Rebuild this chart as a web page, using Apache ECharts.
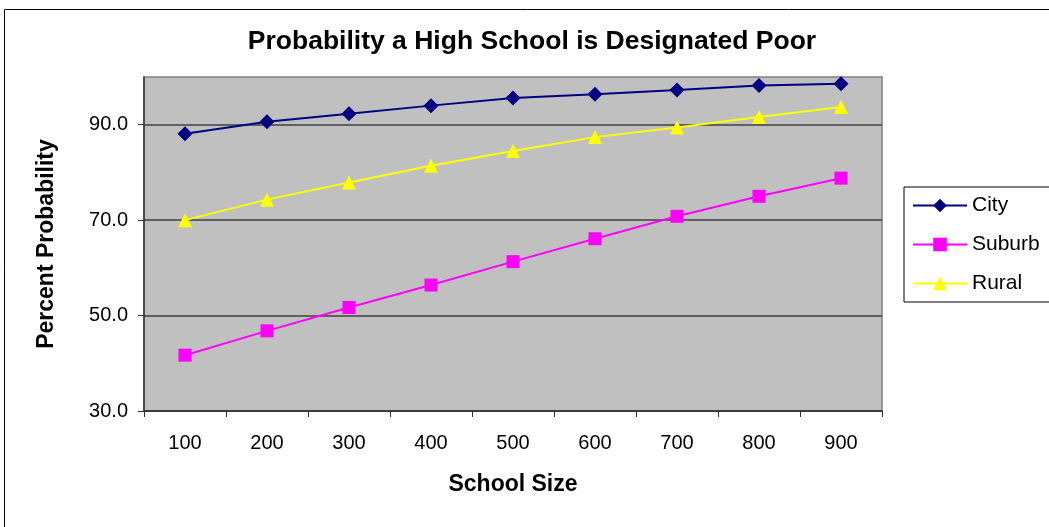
<!DOCTYPE html>
<html>
<head>
<meta charset="utf-8">
<script src="https://cdn.jsdelivr.net/npm/echarts@6/dist/echarts.min.js"></script>
<style>
html,body{margin:0;padding:0;background:#fff;}
#chart{width:1049px;height:527px;}
</style>
</head>
<body>
<div id="chart"></div>
<script>
const categories = ['100','200','300','400','500','600','700','800','900'];
const cityValues   = [88.1, 90.6, 92.3, 94.0, 95.6, 96.4, 97.3, 98.2, 98.6];
const suburbValues = [41.7, 46.8, 51.7, 56.4, 61.3, 66.1, 70.8, 75.0, 78.8];
const ruralValues  = [70.0, 74.3, 77.9, 81.4, 84.5, 87.4, 89.4, 91.6, 93.7];
const yTicks = [30, 50, 70, 90];

const FONT = 'Arial, "Liberation Sans", sans-serif';
const chart = echarts.init(document.getElementById('chart'));
chart.setOption({
  animation: false,
  backgroundColor: '#ffffff',
  textStyle: { fontFamily: FONT },
  title: {
    text: 'Probability a High School is Designated Poor',
    left: 527, top: 23, textAlign: 'center',
    textStyle: { fontFamily: FONT, fontSize: 26.5, fontWeight: 'bold', color: '#000' }
  },
  graphic: [{
    type: 'rect', silent: true, z: -1,
    shape: { x: 4.5, y: 9.5, width: 1200, height: 700 },
    style: { fill: null, stroke: '#000', lineWidth: 1 }
  }],
  legend: {
    orient: 'vertical',
    left: 904, top: 187,
    padding: [8, 60, 8, 8],
    borderColor: '#000', borderWidth: 1,
    backgroundColor: '#fff',
    itemWidth: 54, itemHeight: 17, itemGap: 18,
    textStyle: { fontFamily: FONT, fontSize: 21, color: '#000', lineHeight: 21 },
    data: ['City', 'Suburb', 'Rural']
  },
  grid: {
    left: 144, top: 77, right: 167, bottom: 116,
    show: true, backgroundColor: '#c0c0c0', borderColor: '#808080', borderWidth: 1.5
  },
  xAxis: {
    type: 'category', data: categories, boundaryGap: true,
    name: 'School Size', nameLocation: 'middle', nameGap: 62,
    nameTextStyle: { fontFamily: FONT, fontSize: 23, fontWeight: 'bold', color: '#000' },
    axisLine: { lineStyle: { color: '#333', width: 1.5 } },
    axisTick: { show: true, length: 6, alignWithLabel: false, lineStyle: { color: '#333' } },
    axisLabel: { fontFamily: FONT, fontSize: 20, color: '#000', margin: 22 },
    splitLine: { show: false }
  },
  yAxis: {
    type: 'value', min: 30, max: 100, interval: 20,
    name: 'Percent Probability', nameLocation: 'middle', nameGap: 86,
    nameTextStyle: { fontFamily: FONT, fontSize: 23, fontWeight: 'bold', color: '#000' },
    axisLine: { show: true, lineStyle: { color: '#333', width: 1.5 } },
    axisTick: { show: true, length: 6, customValues: yTicks, lineStyle: { color: '#333' } },
    axisLabel: {
      fontFamily: FONT, fontSize: 20, color: '#000', margin: 16, customValues: yTicks,
      formatter: v => Number(v).toFixed(1)
    },
    splitLine: { show: true, lineStyle: { color: '#404040', width: 1.5 } }
  },
  series: [
    { name: 'City', type: 'line', data: cityValues, symbol: 'diamond', symbolSize: 15,
      lineStyle: { color: '#000080', width: 2 }, itemStyle: { color: '#000080' } },
    { name: 'Suburb', type: 'line', data: suburbValues, symbol: 'rect', symbolSize: 13,
      lineStyle: { color: '#ff00ff', width: 2 }, itemStyle: { color: '#ff00ff' } },
    { name: 'Rural', type: 'line', data: ruralValues, symbol: 'triangle', symbolSize: 14,
      lineStyle: { color: '#ffff00', width: 2 }, itemStyle: { color: '#ffff00' } }
  ]
});
</script>
</body>
</html>
